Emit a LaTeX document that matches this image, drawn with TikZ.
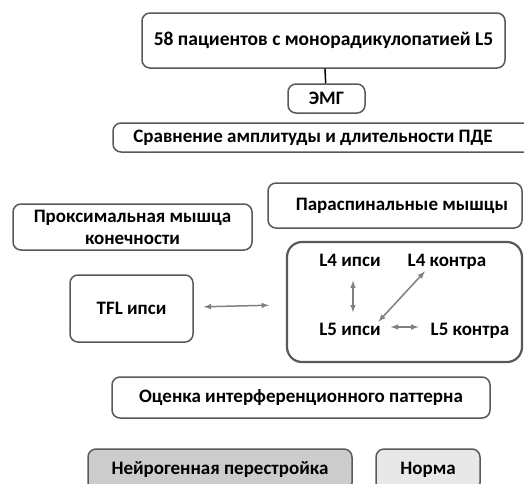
\documentclass[tikz,border=0pt]{standalone}
\usepackage{fontspec}
\setmainfont{Carlito}
\usepackage{tikz}
\usepackage{xcolor}
\definecolor{FontColor}{HTML}{000000}
\definecolor{LineGray}{HTML}{595959}
\definecolor{ArrowGray}{HTML}{808080}
\definecolor{DarkFill}{HTML}{CCCCCC}
\definecolor{LightFill}{HTML}{E8E8E8}
\newcommand\nodepat{58 пациентов с монорадикулопатией L5}
\newcommand\nodeemg{ЭМГ}
\newcommand\nodecmp{Сравнение амплитуды и длительности ПДЕ}
\newcommand\nodeprox{Проксимальная мышца\\конечности}
\newcommand\nodepara{Параспинальные мышцы}
\newcommand\nodetfl{TFL ипси}
\newcommand\nodeli{L4 ипси}
\newcommand\nodelk{L4 контра}
\newcommand\nodemi{L5 ипси}
\newcommand\nodemk{L5 контра}
\newcommand\nodeip{Оценка интерференционного паттерна}
\newcommand\nodeneu{Нейрогенная перестройка}
\newcommand\nodenorm{Норма}
\tikzstyle{mynodestyle} = [rectangle, rounded corners=8pt, text=FontColor, font=\bfseries\fontsize{19}{22}\selectfont, align=center, inner sep=0pt]
\tikzstyle{wb} = [mynodestyle, draw=LineGray, fill=white, line width=1.5pt]
\tikzstyle{db} = [mynodestyle, draw=LineGray, fill=DarkFill, line width=1.5pt, text height=13pt, text depth=4pt]
\tikzstyle{lb} = [mynodestyle, draw=LineGray, fill=LightFill, line width=1.5pt, text height=13pt, text depth=4pt]
\tikzstyle{tn} = [mynodestyle, text height=13pt, text depth=4pt]
\tikzstyle{ga} = [<->, draw=ArrowGray, line width=1.5pt]
\tikzset{>=latex, x=1pt, y=-1pt}

\begin{document}
\begin{tikzpicture}
\useasboundingbox (0,0) rectangle (524,483);
\begin{scope}
\clip (0,0) rectangle (524,483);
\node[wb, font=\bfseries\fontsize{19.5}{23}\selectfont, minimum width=363pt, minimum height=55pt] (pat) at (323.5, 40.5) {\nodepat};
\node[wb, minimum width=77pt, minimum height=29pt] (emg) at (326.5, 98.5) {\nodeemg};
\node[wb, minimum width=420pt, minimum height=29pt] (cmp) at (323, 137.5) {\nodecmp\hspace{20pt}};
\node[wb, minimum width=254pt, minimum height=45pt] (para) at (395, 205.5) {\hspace{14pt}\nodepara};
\node[wb, minimum width=239pt, minimum height=46pt] (prox) at (132.5, 227) {\nodeprox};
\node[wb, minimum width=123pt, minimum height=67pt] (tfl) at (131.5, 308.5) {\nodetfl};
\node[wb, rounded corners=15pt, line width=2.2pt, minimum width=235pt, minimum height=120pt] (grp) at (404.5, 302) {};
\node[tn] (li) at (350, 262) {\nodeli};
\node[tn] (lk) at (447, 262) {\nodelk};
\node[tn] (mi) at (350, 331) {\nodemi};
\node[tn] (mk) at (470, 331) {\nodemk};
\node[wb, minimum width=378pt, minimum height=41pt] (ip) at (301, 397.5) {\nodeip};
\node[db, minimum width=264pt, minimum height=42pt] (neu) at (220, 470) {\nodeneu};
\node[lb, minimum width=104pt, minimum height=42pt] (norm) at (428, 470) {\nodenorm};
\end{scope}
\draw [draw=black, line width=1.5pt] (pat) -- (emg);
\draw [ga, shorten <=10pt, shorten >=17pt] (tfl) -- (grp);
\draw [ga, shorten <=10pt, shorten >=10pt] (li.south -| 353,0) -- (mi.north -| 353,0);
\draw [ga, shorten <=1pt, shorten >=1pt] ([xshift=-3pt]mi.north east) -- ([xshift=18pt]lk.south west);
\draw [ga, shorten <=10pt, shorten >=12pt] (mi.east |- 0,327) -- (mk.west |- 0,327);
\end{tikzpicture}
\end{document}
